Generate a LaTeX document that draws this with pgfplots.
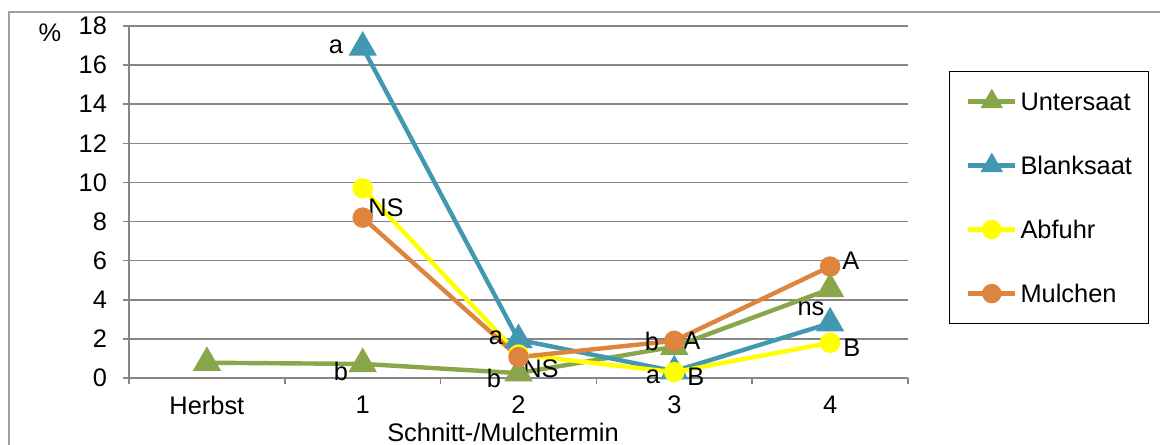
\documentclass[border=0pt]{standalone}
\usepackage{fontspec}
\setmainfont{Liberation Sans}
\usepackage{pgfplots}
\pgfplotsset{compat=1.18}
\definecolor{cgreen}{RGB}{137,166,74}
\definecolor{cblue}{RGB}{66,152,176}
\definecolor{cyellow}{RGB}{255,255,0}
\definecolor{corange}{RGB}{221,132,62}
\definecolor{cgrid}{RGB}{134,134,134}
\definecolor{cframe}{RGB}{160,160,160}
\begin{document}
\begin{tikzpicture}[x=0.5bp,y=0.5bp,font=\fontsize{12.7bp}{15bp}\selectfont]
\path[use as bounding box] (0,0) rectangle (1160,445);
\draw[cframe, line width=0.8bp] (9,-10) -- (9,433) -- (1170,433);
\coordinate (SW) at (129,67);
\begin{axis}[
  at={(SW)}, anchor=south west,
  width=389.5bp, height=176bp, scale only axis,
  xmin=-0.5, xmax=4.5, ymin=0, ymax=18,
  ytick={0,2,...,18},
  xtick={-0.5,0.5,...,4.5}, xticklabels={,,,,,},
  extra x ticks={0,1,2,3,4}, extra x tick labels={Herbst,1,2,3,4},
  extra x tick style={major tick length=0pt},
  tick align=outside, major tick length=3.2bp,
  axis x line*=bottom, axis y line*=left,
  axis line style={cgrid, line width=0.75bp},
  tick style={cgrid, line width=0.75bp},
  ymajorgrids, grid style={cgrid, line width=0.75bp},
  /pgf/number format/assume math mode=true,
  tick label style={font=\fontsize{12.7bp}{15bp}\selectfont},
  yticklabel style={xshift=-4.3bp},
  xticklabel style={yshift=-5.3bp},
  clip=false,
  legend cell align=left,
  legend style={at={(1.0526,0.8722)}, anchor=north west, draw=black, line width=0.6bp,
    inner xsep=8.25bp, inner ysep=10.4bp, row sep=22.8bp, column sep=1.5bp,
    nodes={inner sep=0pt, anchor=west, text height=9.2bp, text depth=0pt},
    font=\fontsize{12.7bp}{15bp}\selectfont},
  legend image code/.code={\draw[mark repeat=2, mark phase=2, #1] plot coordinates {(0bp,0bp) (11.75bp,0bp) (23.5bp,0bp)};},
]
\addplot[cgreen, line width=2.2bp, mark=triangle*, mark size=6bp, mark options={solid},
  legend image post style={mark size=4.3bp}]
  coordinates {(0,0.78)(1,0.72)(2,0.25)(3,1.6)(4,4.55)};
\addlegendentry{Untersaat}
\addplot[cblue, line width=2.2bp, mark=triangle*, mark size=6bp, mark options={solid},
  legend image post style={mark size=4.3bp}]
  coordinates {(1,16.9)(2,1.95)(3,0.35)(4,2.8)};
\addlegendentry{Blanksaat}
\addplot[cyellow, line width=2.2bp, mark=*, mark size=4bp, mark options={solid},
  legend image post style={mark size=3.75bp}]
  coordinates {(1,9.7)(2,1.2)(3,0.3)(4,1.8)};
\addlegendentry{Abfuhr}
\addplot[corange, line width=2.2bp, mark=*, mark size=4bp, mark options={solid},
  legend image post style={mark size=3.75bp}]
  coordinates {(1,8.2)(2,1.07)(3,1.9)(4,5.7)};
\addlegendentry{Mulchen}
\node at (axis cs:0.828,16.92) {a};
\node at (axis cs:1.149,8.69) {NS};
\node at (axis cs:0.86,0.36) {b};
\node at (axis cs:1.855,2.04) {a};
\node at (axis cs:1.842,0.0) {b};
\node at (axis cs:2.144,0.46) {NS};
\node at (axis cs:2.856,1.89) {b};
\node at (axis cs:3.113,1.89) {A};
\node at (axis cs:2.863,0.05) {a};
\node at (axis cs:3.138,0.05) {B};
\node at (axis cs:4.133,5.98) {A};
\node at (axis cs:3.877,3.53) {ns};
\node at (axis cs:4.14,1.53) {B};
\end{axis}
\node at (50,412) {\%};
\node[anchor=base] at (503,3) {Schnitt-/Mulchtermin};
\end{tikzpicture}
\end{document}
